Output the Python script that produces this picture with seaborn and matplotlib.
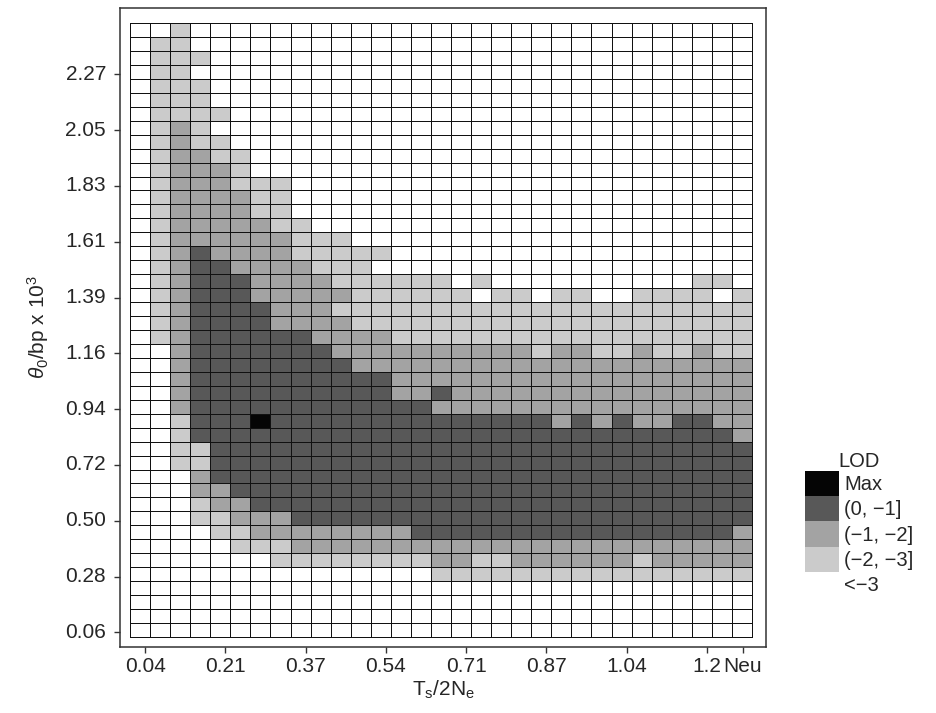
import numpy as np
import matplotlib
matplotlib.use('Agg')
import matplotlib.pyplot as plt
from matplotlib.colors import ListedColormap
from matplotlib.patches import Patch
import seaborn as sns

# LOD class of every grid cell, top row = highest theta, columns left -> right
# 0 = <-3, 1 = (-2,-3], 2 = (-1,-2], 3 = (0,-1], 4 = Max
# (grouped in tens for readability: cols 0-9 | 10-19 | 20-29 | 30)
lod_rows = [
    "0010000000 0000000000 0000000000 0",
    "0110000000 0000000000 0000000000 0",
    "0111000000 0000000000 0000000000 0",
    "0110000000 0000000000 0000000000 0",
    "0111000000 0000000000 0000000000 0",
    "0111000000 0000000000 0000000000 0",
    "0111100000 0000000000 0000000000 0",
    "0121000000 0000000000 0000000000 0",
    "0121100000 0000000000 0000000000 0",
    "0122110000 0000000000 0000000000 0",
    "0122210000 0000000000 0000000000 0",
    "0122211100 0000000000 0000000000 0",
    "0122221100 0000000000 0000000000 0",
    "0122221100 0000000000 0000000000 0",
    "0122222110 0000000000 0000000000 0",
    "0122222211 1000000000 0000000000 0",
    "0123222211 1110000000 0000000000 0",
    "0123322221 1100000000 0000000000 0",
    "0123332222 1111110100 0000000011 0",
    "0123332222 2111111011 0110011110 1",
    "0123333222 1111111111 1111111111 1",
    "0123333222 2111111111 1111111111 1",
    "0123333332 2221111111 1111111111 1",
    "0023333333 2222222222 1221121121 1",
    "0023333333 3222222222 2222222222 2",
    "0023333333 3332222222 2222222222 2",
    "0023333333 3332232222 2222222222 2",
    "0023333333 3333322222 2222222222 2",
    "0013334333 3333333333 3232322332 2",
    "0013333333 3333333333 3333333333 2",
    "0011333333 3333333333 3333333333 3",
    "0011333333 3333333333 3333333333 3",
    "0002333333 3333333333 3333333333 3",
    "0002233333 3333333333 3333333333 3",
    "0001223333 3333333333 3333333333 3",
    "0001122233 3333333333 3333333333 3",
    "0000112222 2222333333 3333333333 2",
    "0000011122 2222222222 2222222222 2",
    "0000000111 1111122112 2222212222 2",
    "0000000000 0000011111 1111111111 1",
    "0000000000 0000000000 0000000000 0",
    "0000000000 0000000000 0000000000 0",
    "0000000000 0000000000 0000000000 0",
    "0000000000 0000000000 0000000000 0",
]

x_ticklabels = ['0.04', '0.21', '0.37', '0.54', '0.71', '0.87', '1.04', '1.2', 'Neu']
y_ticklabels = ['2.27', '2.05', '1.83', '1.61', '1.39', '1.16', '0.94', '0.72', '0.50', '0.28', '0.06']

lod_colors = ['#ffffff', '#cbcbcb', '#a3a3a3', '#585858', '#050505']
lod_labels = ['<\u22123', '(\u22122, \u22123]', '(\u22121, \u22122]', '(0, \u22121]', 'Max']

grid = np.array([[int(c) for c in r.replace(' ', '')] for r in lod_rows])
n_rows, n_cols = grid.shape

sns.set_theme(style='white')
plt.rcParams['font.family'] = ['Liberation Sans', 'DejaVu Sans']
plt.rcParams['mathtext.fontset'] = 'custom'
plt.rcParams['mathtext.rm'] = 'Liberation Sans'
plt.rcParams['mathtext.it'] = 'Liberation Sans:italic'
plt.rcParams['mathtext.bf'] = 'Liberation Sans:bold'

fig = plt.figure(figsize=(9.36, 7.13), dpi=100)
ax = fig.add_axes([120 / 936, 1 - 647 / 713, 646 / 936, 639 / 713])

sns.heatmap(grid, ax=ax, cmap=ListedColormap(lod_colors), vmin=-0.5, vmax=4.5,
            cbar=False, linewidths=0.65, linecolor='#111111')

# margin between the cell grid and the frame
ax.set_xlim(-0.5, n_cols + 0.7)
ax.set_ylim(n_rows + 0.72, -1.08)
for s in ax.spines.values():
    s.set_visible(True)
    s.set_color('#333333')
    s.set_linewidth(1.1)

ax.set_xticks([0.75 + 4 * k for k in range(8)] + [n_cols - 0.45])
ax.set_xticklabels(x_ticklabels, rotation=0)
ax.set_yticks([n_rows - 0.33 - 4 * k for k in range(len(y_ticklabels))][::-1])
ax.set_yticklabels(y_ticklabels, rotation=0)
ax.tick_params(bottom=True, left=True, direction='out', length=4, width=1,
               color='#333333', labelsize=15)
ax.tick_params(axis='x', pad=3)
ax.tick_params(axis='y', pad=6)

ax.set_xlabel(r'T$_\mathregular{s}$/2N$_\mathregular{e}$', fontsize=15, labelpad=2)
ax.set_ylabel(r'$\theta_0$/bp x 10$^3$', fontsize=15, labelpad=10)

handles = [Patch(facecolor=c, edgecolor='none', label=l)
           for c, l in zip(lod_colors[::-1], lod_labels[::-1])]
fig.legend(handles=handles, loc='upper left', bbox_to_anchor=(805 / 936, 1 - 452 / 713),
           frameon=False, title='LOD', fontsize=14.5, title_fontsize=14.5,
           handlelength=1.7, handleheight=1.55, labelspacing=0, handletextpad=0.25,
           borderpad=0, borderaxespad=0)

fig.savefig('out.png', dpi=100)
